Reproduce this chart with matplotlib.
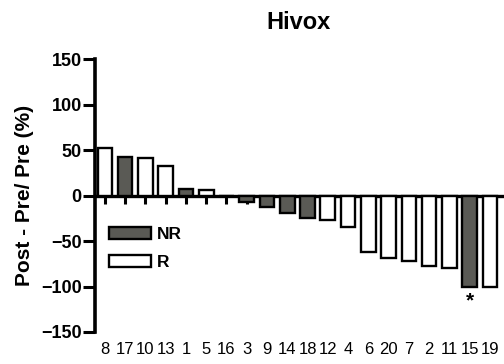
import matplotlib
matplotlib.use("Agg")
import matplotlib.pyplot as plt
from matplotlib.patches import Patch

plt.rcParams['font.family'] = ['Liberation Sans', 'DejaVu Sans']

# Patient IDs, ordered by change
patients = ["8", "17", "10", "13", "1", "5", "16", "3", "9", "14",
            "18", "12", "4", "6", "20", "7", "2", "11", "15", "19"]
# Percent change (Post - Pre) / Pre
change = [52, 42, 41, 33, 7, 6, 0, -7, -12, -19,
          -25, -27, -34, -62, -69, -72, -77, -80, -101, -101]
# Response group per patient
group = ["R", "NR", "R", "R", "NR", "R", "R", "NR", "NR", "NR",
         "NR", "R", "R", "R", "R", "R", "R", "R", "NR", "R"]
starred = ["15"]

colors = {"NR": "#5a5a55", "R": "white"}

fig = plt.figure(figsize=(5.04, 3.64), dpi=100)
ax = fig.add_axes([0.1885, 0.088, 0.8075, 0.749])

x = list(range(len(patients)))
ax.bar(x, change, width=0.72, color=[colors[g] for g in group],
       edgecolor="black", linewidth=1.7, zorder=3)

ax.set_xlim(-0.49, 19.6)
ax.set_ylim(-150, 150)
ax.set_yticks([-150, -100, -50, 0, 50, 100, 150])
ax.tick_params(axis="y", direction="out", length=8.5, width=2.2,
               labelsize=13, pad=1)
for lab in ax.get_yticklabels():
    lab.set_fontweight("bold")

# x axis runs through zero with ticks at every bar
ax.spines["bottom"].set_position(("data", 0))
ax.spines["bottom"].set_linewidth(2.4)
ax.spines["left"].set_linewidth(2.6)
ax.spines["top"].set_visible(False)
ax.spines["right"].set_visible(False)
ax.set_xticks(x)
ax.set_xticklabels([])
ax.tick_params(axis="x", direction="out", length=6, width=2.2)

# patient labels along the bottom edge
sec = ax.secondary_xaxis(0)
sec.set_xticks(x)
sec.set_xticklabels(patients, fontsize=12)
sec.spines["bottom"].set_visible(False)
sec.tick_params(axis="x", length=0, pad=7)

for xi, p, v in zip(x, patients, change):
    if p in starred:
        ax.annotate("*", (xi, v), xytext=(0, -3), textcoords="offset points",
                    ha="center", va="top", fontsize=15, fontweight="bold")

ax.set_ylabel("Post - Pre/ Pre (%)", fontsize=15, fontweight="bold",
              labelpad=5)
ax.set_title("Hivox", fontsize=17, fontweight="bold", pad=22)

handles = [Patch(facecolor=colors["NR"], edgecolor="black", linewidth=1.7),
           Patch(facecolor=colors["R"], edgecolor="black", linewidth=1.7)]
leg = ax.legend(handles, ["NR", "R"], loc="upper left",
                bbox_to_anchor=(0.035, 0.385), frameon=False,
                prop={"weight": "bold", "size": 12.5},
                handlelength=2.4, handleheight=0.7, handletextpad=0.35,
                labelspacing=0.75, borderaxespad=0, borderpad=0)

fig.savefig("out.png", dpi=100)
